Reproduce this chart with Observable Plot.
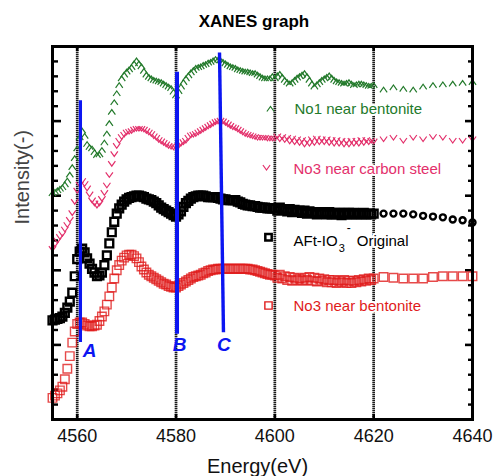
<!DOCTYPE html>
<html><head><meta charset="utf-8">
<script src="https://cdn.jsdelivr.net/npm/d3@7"></script>
<script src="https://cdn.jsdelivr.net/npm/@observablehq/plot@0.6"></script>
<style>
html,body{margin:0;padding:0;background:#fff;}
#chart svg{display:block;}
</style></head><body><div id="chart"></div>
<script>
// ---------- data ----------
const energy = [
  4555,4555.5,4556,4556.5,4557,4557.5,4558,4558.5,4559,4559.5,
  4560,4560.5,4561,4561.5,4562,4562.5,4563,4563.5,4564,4564.5,
  4565,4565.5,4566,4566.5,4567,4567.5,4568,4568.5,4569,4569.5,
  4570,4570.5,4571,4571.5,4572,4572.5,4573,4573.5,4574,4574.5,
  4575,4575.5,4576,4576.5,4577,4577.5,4578,4578.5,4579,4579.5,
  4580,4580.5,4581,4581.5,4582,4582.5,4583,4583.5,4584,4584.5,
  4585,4585.5,4586,4586.5,4587,4587.5,4588,4588.5,4589,4589.5,
  4590,4590.5,4591,4591.5,4592,4592.5,4593,4593.5,4594,4594.5,
  4595,4595.5,4596,4596.5,4597,4597.5,4598,4598.5,4599,4599.5,
  4600,4600.5,4601,4601.5,4602,4602.5,4603,4603.5,4604,4604.5,
  4605,4605.5,4606,4606.5,4607,4607.5,4608,4608.5,4609,4609.5,
  4610,4610.5,4611,4611.5,4612,4612.5,4613,4613.5,4614,4614.5,
  4615,4615.5,4616,4616.5,4617,4617.5,4618,4618.5,4619,4619.5,
  4620,
  4622,4624,4626,4628,4630,4632,4634,4636,4638,4640];

const no1NearBentonite = [
  3.03,3.05,3.07,3.09,3.11,3.15,3.20,3.28,3.38,3.50,
  3.63,3.78,3.87,3.80,3.69,3.65,3.63,3.58,3.54,3.55,
  3.61,3.71,3.83,3.97,4.12,4.25,4.37,4.48,4.57,4.62,
  4.66,4.69,4.72,4.77,4.81,4.77,4.73,4.67,4.62,4.59,
  4.57,4.55,4.54,4.53,4.52,4.50,4.48,4.46,4.44,4.39,
  4.34,4.40,4.46,4.52,4.57,4.61,4.65,4.68,4.71,4.72,
  4.73,4.75,4.76,4.78,4.79,4.81,4.83,4.82,4.81,4.79,
  4.77,4.75,4.73,4.72,4.71,4.69,4.68,4.67,4.66,4.66,
  4.65,4.64,4.64,4.62,4.60,4.58,4.57,4.57,4.57,4.60,
  4.57,4.61,4.63,4.59,4.55,4.52,4.50,4.52,4.55,4.58,
  4.60,4.62,4.64,4.60,4.55,4.50,4.46,4.49,4.52,4.55,
  4.57,4.59,4.61,4.58,4.55,4.53,4.52,4.51,4.50,4.51,
  4.52,4.50,4.48,4.49,4.50,4.50,4.49,4.48,4.47,4.47,
  4.48,
  4.42,4.45,4.43,4.42,4.46,4.48,4.49,4.50,4.51,4.52];

const no3NearCarbonSteel = [
  2.29,2.35,2.40,2.45,2.49,2.55,2.61,2.68,2.77,2.92,
  3.07,3.15,3.20,3.16,3.10,3.02,2.94,2.90,2.87,2.90,
  2.96,3.04,3.14,3.28,3.43,3.56,3.67,3.74,3.79,3.82,
  3.85,3.86,3.87,3.89,3.90,3.90,3.90,3.89,3.87,3.85,
  3.83,3.80,3.78,3.75,3.73,3.71,3.69,3.67,3.66,3.65,
  3.65,3.67,3.70,3.72,3.74,3.78,3.81,3.82,3.83,3.85,
  3.87,3.89,3.91,3.93,3.95,3.97,3.99,4.00,4.01,4.00,
  3.98,3.96,3.94,3.92,3.91,3.89,3.87,3.85,3.83,3.82,
  3.81,3.80,3.79,3.78,3.78,3.78,3.78,3.77,3.77,3.77,
  3.77,3.80,3.76,3.79,3.75,3.78,3.73,3.77,3.72,3.76,
  3.71,3.75,3.69,3.74,3.70,3.76,3.71,3.77,3.72,3.76,
  3.72,3.76,3.71,3.75,3.70,3.75,3.70,3.74,3.69,3.73,
  3.69,3.74,3.70,3.74,3.70,3.75,3.71,3.75,3.72,3.74,
  3.73,
  3.76,3.78,3.74,3.78,3.76,3.79,3.78,3.74,3.74,3.76];

const aftOriginal = [
  1.33,1.34,1.35,1.36,1.38,1.43,1.50,1.58,1.70,1.92,
  2.15,2.25,2.29,2.24,2.16,2.09,2.02,1.97,1.92,1.93,
  1.97,2.07,2.20,2.36,2.51,2.65,2.76,2.83,2.88,2.92,
  2.95,2.97,2.98,2.99,3.00,3.00,2.99,2.98,2.96,2.95,
  2.94,2.92,2.90,2.87,2.84,2.82,2.80,2.78,2.76,2.74,
  2.72,2.75,2.79,2.85,2.90,2.93,2.96,2.98,2.99,3.00,
  3.00,3.00,2.99,2.98,2.98,2.98,2.98,2.97,2.96,2.95,
  2.95,2.94,2.94,2.94,2.94,2.92,2.91,2.89,2.88,2.87,
  2.87,2.86,2.86,2.85,2.84,2.84,2.84,2.83,2.83,2.83,
  2.83,2.80,2.84,2.81,2.82,2.79,2.82,2.78,2.81,2.79,
  2.80,2.77,2.80,2.76,2.79,2.77,2.78,2.75,2.78,2.76,
  2.78,2.75,2.78,2.75,2.77,2.75,2.77,2.74,2.77,2.75,
  2.77,2.75,2.77,2.75,2.76,2.75,2.77,2.75,2.76,2.75,
  2.76,
  2.76,2.76,2.76,2.75,2.73,2.72,2.71,2.68,2.67,2.64];

const no3NearBentonite = [
  0.29,0.32,0.35,0.39,0.44,0.54,0.68,0.85,1.03,1.18,
  1.28,1.30,1.30,1.28,1.26,1.25,1.25,1.26,1.27,1.32,
  1.38,1.45,1.54,1.65,1.77,1.89,2.00,2.07,2.13,2.17,
  2.20,2.21,2.21,2.19,2.16,2.11,2.05,2.01,1.97,1.94,
  1.92,1.90,1.88,1.86,1.84,1.82,1.81,1.79,1.78,1.77,
  1.77,1.79,1.81,1.83,1.85,1.87,1.89,1.91,1.92,1.93,
  1.94,1.96,1.97,1.99,2.00,2.01,2.01,2.02,2.02,2.02,
  2.02,2.02,2.02,2.02,2.02,2.02,2.02,2.02,2.02,2.02,
  2.01,2.01,2.00,1.99,1.98,1.97,1.96,1.95,1.94,1.94,
  1.93,1.90,1.94,1.89,1.92,1.87,1.91,1.86,1.90,1.87,
  1.89,1.86,1.90,1.87,1.91,1.86,1.90,1.85,1.89,1.86,
  1.88,1.84,1.87,1.84,1.87,1.83,1.86,1.84,1.87,1.83,
  1.86,1.83,1.86,1.84,1.87,1.85,1.88,1.86,1.89,1.87,
  1.89,
  1.91,1.90,1.89,1.89,1.89,1.91,1.92,1.92,1.92,1.92];

const seriesLabels = ["No1 near bentonite", "No3 near carbon steel", "AFt-IO3- Original", "No3 near bentonite"];
const denseLimit = 4620; // finer energy steps up to here

const xTicks = [4560, 4580, 4600, 4620, 4640];
const gridEnergies = [4560, 4580, 4600, 4620];
const yMajorTicks = [1, 2, 3, 4];
const yMinorTicks = [0.2,0.4,0.6,0.8,1.2,1.4,1.6,1.8,2.2,2.4,2.6,2.8,3.2,3.4,3.6,3.8,4.2,4.4,4.6,4.8];

const annotLabels = ["A", "B", "C"];
const annotEnergyTop = [4560.65, 4580.2, 4588.8];
const annotEnergyBottom = [4560.65, 4580.2, 4589.6];
const annotIntensityTop = [4.28, 4.66, 4.92];
const annotIntensityBottom = [1.04, 1.15, 1.17];
const annotLabelEnergy = [4562.5, 4580.7, 4589.7];
const annotLabelIntensity = [0.92, 1.0, 1.0];

const titleText = "XANES graph";
const xLabel = "Energy(eV)";
const yLabel = "Intensity(-)";

// ---------- styles ----------
const W = 499, H = 476, mL = 52, mR = 27, mT = 46, mB = 57;
const FW = W - mL - mR, FH = H - mT - mB;
const C = {green: "#237a2b", pink: "#e3306b", black: "#000", red: "#e01b1b", blue: "#0c16f2"};
const FONT = "'Liberation Sans', Arial, sans-serif";
const annotWidths = [3.2, 4, 3.4];

const chevUp = {draw(ctx, size) { const r = Math.sqrt(size / Math.PI); ctx.moveTo(-r, r * 0.7); ctx.lineTo(0, -r * 0.7); ctx.lineTo(r, r * 0.7); }};
const chevDown = {draw(ctx, size) { const r = Math.sqrt(size / Math.PI); ctx.moveTo(-r, -r * 0.7); ctx.lineTo(0, r * 0.7); ctx.lineTo(r, -r * 0.7); }};

const rows = (vals) => energy.map((e, i) => ({E: e, I: vals[i]}));
const green = rows(no1NearBentonite), pink = rows(no3NearCarbonSteel), black = rows(aftOriginal), red = rows(no3NearBentonite);
const annots = annotLabels.map((l, i) => ({l, e1: annotEnergyTop[i], e2: annotEnergyBottom[i], i1: annotIntensityTop[i], i2: annotIntensityBottom[i], le: annotLabelEnergy[i], li: annotLabelIntensity[i], w: annotWidths[i]}));

const legendStyle = [
  {symbol: chevUp, color: C.green, sdx: 218, sdy: 62.5, r: 3.6, sw: 1.2, tdx: 242, tdy: 62.5},
  {symbol: chevDown, color: C.pink, sdx: 214, sdy: 121, r: 3.6, sw: 1.2, tdx: 241, tdy: 122.3},
  {symbol: "square", color: C.black, sdx: 216, sdy: 190.7, r: 3.6, sw: 2.5, tdx: 241, tdy: 194.5},
  {symbol: "square", color: C.red, sdx: 216, sdy: 259, r: 4.1, sw: 1.4, tdx: 241, tdy: 259.5}
];

const legendMarks = seriesLabels.flatMap((lab, i) => {
  const s = legendStyle[i];
  return [
    Plot.dot([lab], {frameAnchor: "top-left", dx: s.sdx, dy: s.sdy, symbol: s.symbol, r: s.r, fill: "none", stroke: s.color, strokeWidth: s.sw}),
    Plot.text([lab], {frameAnchor: "top-left", dx: s.tdx, dy: s.tdy, text: d => d, textAnchor: "start", lineAnchor: "middle", fontSize: 15, fill: s.color, stroke: "white", strokeWidth: 4})
  ];
});

const chart = Plot.plot({
  width: W, height: H,
  marginLeft: mL, marginRight: mR, marginTop: mT, marginBottom: mB,
  x: {domain: [4555, 4640], axis: null},
  y: {domain: [0, 5], axis: null},
  style: {fontFamily: FONT, background: "white"},
  marks: [
    // dotted grid lines
    Plot.ruleX(gridEnergies, {x: d => d, stroke: "#a8a8a8", strokeWidth: 2.6}),
    Plot.ruleX(gridEnergies, {x: d => d, stroke: "#1a1a1a", strokeWidth: 2.6, strokeDasharray: "1,1"}),
    // inner ticks
    Plot.tickY(yMinorTicks, {y: d => d, insetRight: FW - 6, strokeWidth: 2.4}),
    Plot.tickY(yMajorTicks, {y: d => d, insetRight: FW - 9, strokeWidth: 2.6}),
    Plot.tickY(yMinorTicks, {y: d => d, insetLeft: FW - 4, strokeWidth: 2.4}),
    Plot.tickY(yMajorTicks, {y: d => d, insetLeft: FW - 7, strokeWidth: 2.6}),
    Plot.tickX(xTicks, {x: d => d, insetTop: FH - 5, strokeWidth: 2.6}),
    Plot.tickX(xTicks, {x: d => d, insetBottom: FH - 5, strokeWidth: 2.6}),
    // series
    Plot.dot(red, {x: "E", y: "I", symbol: "square", r: 4.8, fill: "none", stroke: C.red, strokeWidth: 1.4, strokeOpacity: 0.8}),
    Plot.dot(black.filter(d => d.E <= denseLimit), {x: "E", y: "I", symbol: "square", r: 4.4, fill: "none", stroke: C.black, strokeWidth: 2.4}),
    Plot.dot(black.filter(d => d.E > denseLimit), {x: "E", y: "I", symbol: "circle", r: 3, fill: "none", stroke: C.black, strokeWidth: 2.4}),
    Plot.dot(pink, {x: "E", y: "I", symbol: chevDown, r: 3.6, fill: "none", stroke: C.pink, strokeWidth: 1.2}),
    Plot.dot(green, {x: "E", y: "I", symbol: chevUp, r: 3.6, fill: "none", stroke: C.green, strokeWidth: 1.2}),
    // annotation lines A, B, C
    Plot.link(annots, {x1: "e1", y1: "i1", x2: "e2", y2: "i2", stroke: C.blue, strokeWidth: "w"}),
    Plot.text(annots, {x: "le", y: "li", text: "l", fill: C.blue, fontSize: 19, fontWeight: "bold", fontStyle: "italic", lineAnchor: "middle"}),
    // legend
    ...legendMarks,
    // frame
    Plot.frame({stroke: "black", strokeWidth: 3}),
    // tick labels & titles
    Plot.text(xTicks, {x: d => d, frameAnchor: "bottom", dy: 16.7, text: d => String(d), fontSize: 18, lineAnchor: "middle", fill: "#111"}),
    Plot.text([xLabel], {frameAnchor: "bottom", dx: -5, dy: 46.8, text: d => d, fontSize: 20, lineAnchor: "middle", fill: "#111"}),
    Plot.text([yLabel], {frameAnchor: "left", dx: -29.5, dy: -8.5, rotate: -90, text: d => d, fontSize: 20, lineAnchor: "middle", fill: "#444"}),
    Plot.text([titleText], {frameAnchor: "top", dx: -8.5, dy: -24.5, text: d => d, fontSize: 17, fontWeight: "bold", lineAnchor: "middle", fill: "#000", letterSpacing: "-0.4px"})
  ]
});

// subscript / superscript for the ion label
const NS = "http://www.w3.org/2000/svg";
chart.querySelectorAll("text").forEach(t => {
  if (t.textContent === seriesLabels[2]) {
    while (t.firstChild) t.removeChild(t.firstChild);
    const parts = [
      {s: "AFt-IO"},
      {s: "3", dy: 6, dx: 1, fs: 11},
      {s: "-", dy: -20, dx: 2, fs: 12},
      {s: "Original", dy: 14, dx: 6}
    ];
    parts.forEach(p => {
      const ts = document.createElementNS(NS, "tspan");
      ts.textContent = p.s;
      if (p.dy) ts.setAttribute("dy", p.dy);
      if (p.dx) ts.setAttribute("dx", p.dx);
      if (p.fs) ts.setAttribute("font-size", p.fs);
      t.appendChild(ts);
    });
  }
});

document.getElementById("chart").appendChild(chart);
</script>
</body></html>
